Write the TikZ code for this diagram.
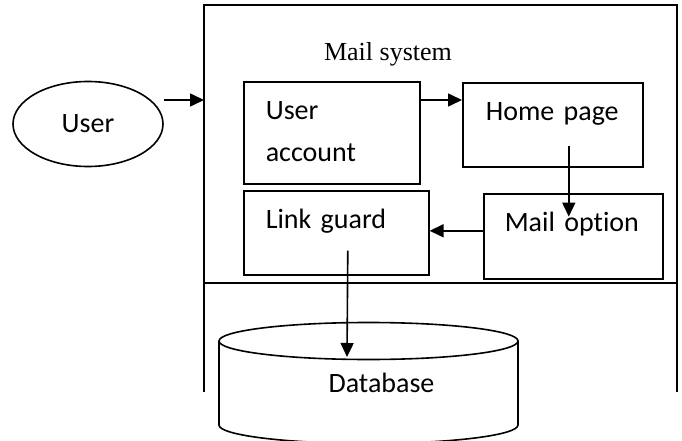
\documentclass[tikz,border=0pt]{standalone}
\usepackage{fontspec}
\setmainfont{Carlito}[Ligatures=NoCommon]
\newfontfamily\timesfont{Liberation Serif}
\usetikzlibrary{arrows.meta,shapes.geometric}

\begin{document}
\begin{tikzpicture}[x=1pt, y=-1pt, line width=1.6pt,
    box/.style={draw, anchor=north west, inner xsep=#1, inner ysep=0pt,
        text height=38pt, align=left, font=\fontsize{28}{42}\selectfont},
    arr/.style={-{Triangle[length=14pt,width=13pt]}}]
    \useasboundingbox (0,0) rectangle (682,441);
    % outer frame
    \draw (204,392) -- (204,5) -- (677,5) -- (677,392);
    \draw (204,283) -- (677,283);
    \node[font=\timesfont\fontsize{26}{30}\selectfont, anchor=base] (title) at (388,61) {Mail system};
    % user
    \node[draw, ellipse, minimum width=150pt, minimum height=85pt,
        font=\fontsize{28}{34}\selectfont] (user) at (88,124) {User};
    \coordinate (entry) at (204,100);
    % boxes
    \node[box=22pt, text width=132pt, text depth=64pt] (ua) at (243,81) {User\\account};
    \node[box=23pt, text width=134pt, text depth=46pt] (hp) at (462,82) {Home page};
    \node[box=22pt, text width=141pt, text depth=46pt] (lg) at (243,190) {Link guard};
    \node[box=21pt, text width=137pt, text depth=47pt] (mo) at (483,193) {Mail option};
    % database
    \draw (368.5,341) ellipse [x radius=149.5pt, y radius=18.5pt];
    \draw (219,341) -- (219,425) arc[start angle=180, end angle=360, x radius=149.5pt, y radius=18.5pt] -- (518,341);
    \node[font=\fontsize{28}{34}\selectfont, anchor=base] (db) at (381.5,392) {Database};
    \coordinate (dbtop) at (347,357);
    % arrows
    \draw[arr] (user.east |- entry) -- (entry);
    \draw[arr] ([yshift=-19pt]ua.north east) -- ([yshift=-19pt]ua.north east -| hp.west);
    \draw[arr] ([xshift=16pt,yshift=22pt]hp.south) -- ++(0pt,-71pt);
    \draw[arr] ([yshift=5.5pt]mo.west) -- ([yshift=5.5pt]mo.west -| lg.east);
    \draw[arr] ([xshift=11.5pt,yshift=25pt]lg.south) -- (dbtop);
\end{tikzpicture}
\end{document}
